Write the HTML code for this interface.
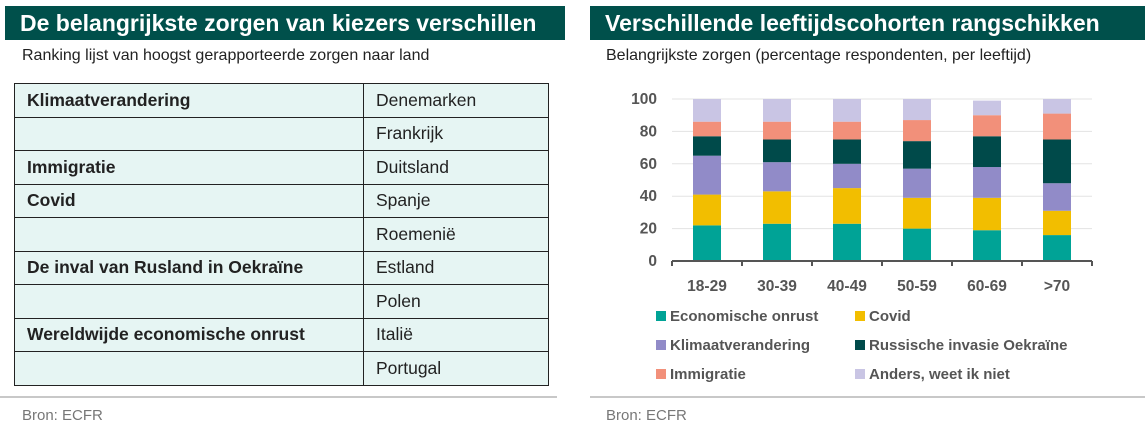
<!DOCTYPE html>
<html><head><meta charset="utf-8"><style>
body{margin:0;width:1145px;height:425px;background:#fff;font-family:"Liberation Sans",sans-serif;position:relative;overflow:hidden}
.abs{position:absolute}
.hdr{background:#00504b;color:#fff;font-weight:bold;font-size:23px;line-height:34px;padding-left:15px;box-sizing:border-box;white-space:nowrap}
.sub{font-size:16px;color:#222;white-space:nowrap}
table{border-collapse:collapse;position:absolute;left:14px;top:83px;width:535px}
td{border:1px solid #222;height:32.5px;padding:0 12px;font-size:17.5px;color:#222;background:#e6f5f3;white-space:nowrap}
td.b{font-weight:bold;width:324px}
.foot{font-size:15px;color:#777}
.line{height:2px;background:#c8c8c8}
</style></head><body>
<div class="abs hdr" style="left:5px;top:6px;width:560px;height:34px">De belangrijkste zorgen van kiezers verschillen</div>
<div class="abs sub" style="left:22px;top:47px">Ranking lijst van hoogst gerapporteerde zorgen naar land</div>
<table>
<tr><td class="b">Klimaatverandering</td><td>Denemarken</td></tr>
<tr><td class="b"></td><td>Frankrijk</td></tr>
<tr><td class="b">Immigratie</td><td>Duitsland</td></tr>
<tr><td class="b">Covid</td><td>Spanje</td></tr>
<tr><td class="b"></td><td>Roemenië</td></tr>
<tr><td class="b">De inval van Rusland in Oekraïne</td><td>Estland</td></tr>
<tr><td class="b"></td><td>Polen</td></tr>
<tr><td class="b">Wereldwijde economische onrust</td><td>Italië</td></tr>
<tr><td class="b"></td><td>Portugal</td></tr>
</table>
<div class="abs line" style="left:0;top:396px;width:557px"></div>
<div class="abs foot" style="left:22px;top:407px">Bron: ECFR</div>

<div class="abs hdr" style="left:590px;top:6px;width:555px;height:34px">Verschillende leeftijdscohorten rangschikken</div>
<div class="abs sub" style="left:606px;top:47px">Belangrijkste zorgen (percentage respondenten, per leeftijd)</div>
<svg class="abs" style="left:0;top:0" width="1145" height="425" id="chart"></svg>
<div class="abs line" style="left:590px;top:396px;width:555px"></div>
<div class="abs foot" style="left:606px;top:407px">Bron: ECFR</div>
<script>
const categories=["18-29","30-39","40-49","50-59","60-69",">70"];
const seriesNames=["Economische onrust","Covid","Klimaatverandering","Russische invasie Oekraïne","Immigratie","Anders, weet ik niet"];
const economisch=[22,23,23,20,19,16];
const covid=[19,20,22,19,20,15];
const klimaat=[24,18,15,18,19,17];
const russisch=[12,14,15,17,19,27];
const immigratie=[9,11,11,13,13,16];
const anders=[14,14,14,13,9,9];
const yTicks=[0,20,40,60,80,100];
const colors=["#00a396","#f2be00","#918bc8","#004a4a","#f2907a","#c9c5e4"];
const series=[economisch,covid,klimaat,russisch,immigratie,anders];
const NS="http://www.w3.org/2000/svg",svg=document.getElementById('chart');
const x0=672,x1=1092,y0=261,y100=99;
const y=v=>y0-(y0-y100)*v/100;
const bw=(x1-x0)/categories.length;
const xc=i=>x0+bw*(i+0.5);
function mk(t,a){const e=document.createElementNS(NS,t);for(const k in a)e.setAttribute(k,a[k]);svg.appendChild(e);return e;}
yTicks.forEach(t=>{
 if(t>0){const g=mk('line',{x1:x0,x2:x1,y1:y(t),y2:y(t),stroke:'#e3e3e3','stroke-width':1});
 
 }
 const l=mk('text',{x:657,y:y(t)+5,'text-anchor':'end','font-size':15.5,'font-weight':'bold',fill:'#555','font-family':'Liberation Sans'});
 l.textContent=t;
 
 
});
categories.forEach((c,i)=>{
 let cum=0;
 series.forEach((s,j)=>{
  const r=mk('rect',{x:xc(i)-14,width:28,y:y(cum+s[i]),height:y(cum)-y(cum+s[i]),fill:colors[j]});
  
  
  cum+=s[i];
 });
 const l=mk('text',{x:xc(i),y:291,'text-anchor':'middle','font-size':15.5,'font-weight':'bold',fill:'#555','font-family':'Liberation Sans'});
 l.textContent=c;
 
 
});
const ax=mk('path',{d:`M${x0} ${y0}H${x1}`+categories.map((c,i)=>`M${x0+bw*i} ${y0}v5`).join('')+`M${x1} ${y0}v5`,stroke:'#555','stroke-width':2,fill:'none'});


seriesNames.forEach((n,j)=>{
 const lx=j%2?855:656,ly=316+29*Math.floor(j/2);
 const r=mk('rect',{x:lx,y:ly-5,width:10,height:10,fill:colors[j]});
 
 
 const t=mk('text',{x:lx+14,y:ly+5,'font-size':15,'font-weight':'bold',fill:'#555','font-family':'Liberation Sans'});
 t.textContent=n;
 
 
});
</script>
</body></html>
